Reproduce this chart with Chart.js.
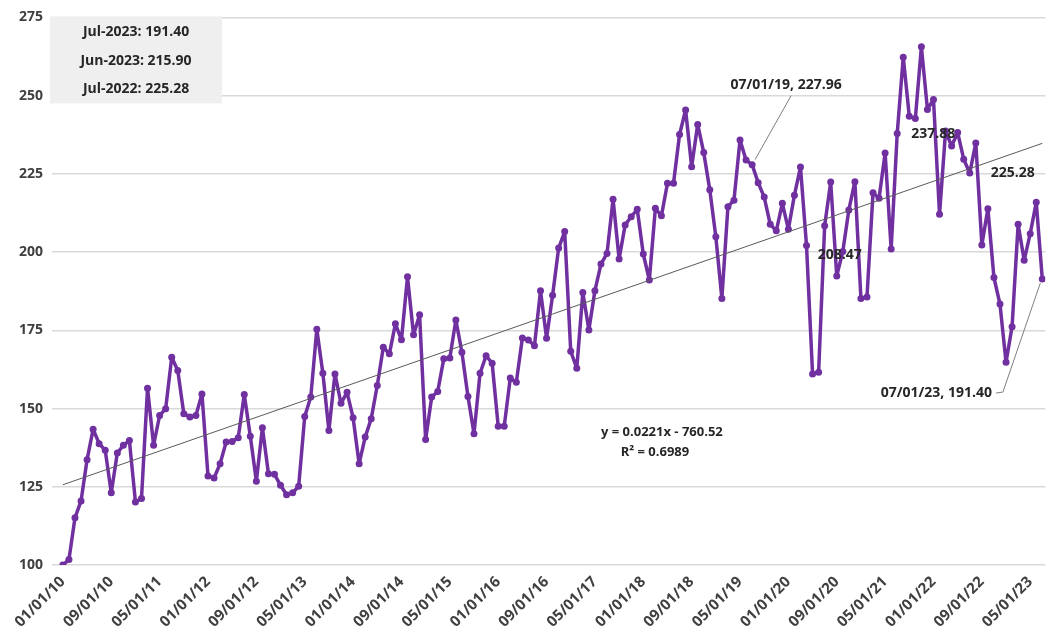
<!DOCTYPE html>
<html>
<head>
<meta charset="utf-8">
<script src="https://cdn.jsdelivr.net/npm/chart.js@4.4.0/dist/chart.umd.min.js"></script>
<style>
  html, body { margin: 0; padding: 0; background: #fff; }
  #wrap { width: 1051px; height: 642px; position: relative; }
</style>
</head>
<body>
<div id="wrap"><canvas id="lineChart"></canvas></div>
<script>
// monthly values (Jan 2010 .. Jul 2023)
var v2010 = [100.0, 101.8, 115.1, 120.5, 133.7, 143.4, 138.8, 136.7, 123.1, 135.8, 138.3, 139.8];
var v2011 = [120.2, 121.3, 156.5, 138.3, 147.8, 150.0, 166.4, 162.2, 148.4, 147.3, 147.8, 154.7];
var v2012 = [128.5, 127.8, 132.4, 139.3, 139.5, 140.7, 154.5, 141.2, 126.8, 143.9, 129.2, 129.0];
var v2013 = [125.5, 122.5, 123.1, 125.2, 147.5, 153.7, 175.4, 161.3, 143.0, 161.1, 151.7, 155.2];
var v2014 = [147.1, 132.4, 140.9, 146.8, 157.4, 169.6, 167.5, 177.1, 172.0, 192.1, 173.6, 180.0];
var v2015 = [140.1, 153.7, 155.5, 165.9, 166.2, 178.3, 168.0, 153.9, 142.0, 161.3, 166.9, 164.5];
var v2016 = [144.4, 144.4, 159.8, 158.4, 172.6, 171.9, 170.1, 187.7, 172.5, 186.2, 201.3, 206.6];
var v2017 = [168.3, 162.9, 187.1, 175.1, 187.7, 196.2, 199.6, 216.9, 197.8, 208.7, 211.3, 213.7];
var v2018 = [199.4, 191.1, 214.0, 211.6, 222.0, 222.0, 237.6, 245.4, 227.3, 240.8, 231.8, 219.9];
var v2019 = [204.9, 185.2, 214.5, 216.6, 235.8, 229.4, 227.96, 222.2, 217.6, 208.9, 206.8, 215.6];
var v2020 = [207.3, 218.2, 227.2, 202.1, 161.1, 161.6, 208.47, 222.4, 192.4, 200.2, 213.5, 222.5];
var v2021 = [185.2, 185.7, 219.0, 217.2, 231.7, 201.0, 237.88, 262.3, 243.4, 242.7, 265.6, 245.6];
var v2022 = [248.8, 212.1, 238.7, 233.9, 238.2, 229.7, 225.28, 234.9, 202.3, 213.9, 191.9, 183.4];
var v2023 = [164.8, 176.2, 208.9, 197.4, 205.9, 215.90, 191.40];

var values = [].concat(v2010, v2011, v2012, v2013, v2014, v2015, v2016,
                       v2017, v2018, v2019, v2020, v2021, v2022, v2023);

var tickLabels = ['01/01/10', '09/01/10', '05/01/11', '01/01/12', '09/01/12', '05/01/13',
                  '01/01/14', '09/01/14', '05/01/15', '01/01/16', '09/01/16', '05/01/17',
                  '01/01/18', '09/01/18', '05/01/19', '01/01/20', '09/01/20', '05/01/21',
                  '01/01/22', '09/01/22', '05/01/23'];
var tickEvery = 8;

var boxLines = ['Jul-2023: 191.40', 'Jun-2023: 215.90', 'Jul-2022: 225.28'];
var eqLines = ['y = 0.0221x - 760.52', 'R\u00b2 = 0.6989'];
// data labels: index of the month, text
var labelIdx = [114, 126, 138, 150, 162];
var labelText = ['07/01/19, 227.96', '208.47', '237.88', '225.28', '07/01/23, 191.40'];

// linear trend from the series
var n = values.length, sx = 0, sy = 0, sxy = 0, sxx = 0;
values.forEach(function (v, i) { sx += i; sy += v; sxy += i * v; sxx += i * i; });
var slope = (n * sxy - sx * sy) / (n * sxx - sx * sx);
var intercept = (sy - slope * sx) / n;

var FONT = '"Open Sans", "Liberation Sans", sans-serif';

var notes = {
  id: 'notes',
  afterDraw: function (chart) {
    var ctx = chart.ctx, xs = chart.scales.x, ys = chart.scales.y, a = chart.chartArea;
    ctx.save();
    // box with latest values
    ctx.fillStyle = '#efefef';
    ctx.fillRect(a.left - 2, a.top - 1, 172, 87);
    ctx.fillStyle = '#262626';
    ctx.font = 'bold 14px ' + FONT;
    ctx.textAlign = 'center';
    ctx.textBaseline = 'middle';
    boxLines.forEach(function (t, k) {
      ctx.fillText(t, a.left + 84, a.top + 15 + k * 28.5);
    });
    // trend equation
    ctx.font = 'bold 13px ' + FONT;
    ctx.fillText(eqLines[0], a.left + 0.614 * (a.right - a.left), ys.getPixelForValue(142.5));
    ctx.fillText(eqLines[1], a.left + 0.607 * (a.right - a.left), ys.getPixelForValue(136.2));

    // data labels
    var off = [[34, -80], [15, 29], [36, 0], [43, 0], [-106, 114]];
    ctx.font = 'bold 14px ' + FONT;
    labelIdx.forEach(function (idx, k) {
      var px = xs.getPixelForValue(idx), py = ys.getPixelForValue(values[idx]);
      var lx = px + off[k][0], ly = py + off[k][1];
      ctx.fillStyle = '#262626';
      ctx.fillText(labelText[k], lx, ly);
      ctx.strokeStyle = '#7f7f7f';
      ctx.lineWidth = 1;
      if (k === 0) {
        ctx.beginPath();
        ctx.moveTo(px + 3, py - 5);
        ctx.lineTo(lx + 5, ly + 11);
        ctx.stroke();
      }
      if (k === 4) {
        var w = ctx.measureText(labelText[k]).width;
        ctx.beginPath();
        ctx.moveTo(lx + w / 2 + 4, ly);
        ctx.lineTo(lx + w / 2 + 11, ly - 1);
        ctx.lineTo(px - 2, py + 4);
        ctx.stroke();
      }
    });
    ctx.restore();
  }
};

var lineCtx = document.getElementById('lineChart').getContext('2d');
var lineChart = new Chart(lineCtx, {
  type: 'line',
  data: {
    datasets: [{
      label: 'Trend',
      data: [{ x: 0, y: intercept }, { x: n - 1, y: intercept + slope * (n - 1) }],
      borderColor: '#595959',
      borderWidth: 1,
      pointRadius: 0,
      order: 0
    }, {
      label: 'Value',
      data: values.map(function (v, i) { return { x: i, y: v }; }),
      borderColor: '#7030a0',
      backgroundColor: '#7030a0',
      borderWidth: 3.5,
      borderJoinStyle: 'round',
      borderCapStyle: 'round',
      pointRadius: 3.5,
      pointBorderWidth: 0,
      pointBackgroundColor: '#7030a0',
      tension: 0,
      order: 1
    }]
  },
  options: {
    responsive: true,
    maintainAspectRatio: false,
    animation: false,
    layout: { padding: { top: 8, right: 3, left: 10, bottom: 3 } },
    plugins: {
      legend: { display: false },
      tooltip: { enabled: false }
    },
    scales: {
      x: {
        type: 'linear',
        min: -1.8,
        max: 162.5,
        grid: { display: false, drawTicks: false },
        border: { display: false },
        afterBuildTicks: function (axis) {
          axis.ticks = tickLabels.map(function (t, k) { return { value: k * tickEvery }; });
        },
        ticks: {
          autoSkip: false,
          maxRotation: 45,
          minRotation: 45,
          padding: 8,
          color: '#404040',
          font: { family: FONT, size: 15, weight: 'bold' },
          callback: function (value) { return tickLabels[value / tickEvery]; }
        }
      },
      y: {
        min: 100,
        max: 275,
        grid: { color: '#d9d9d9', lineWidth: 1.5, drawTicks: false },
        border: { display: false },
        ticks: {
          stepSize: 25,
          padding: 9,
          color: '#404040',
          font: { family: FONT, size: 14, weight: 'bold' }
        }
      }
    }
  },
  plugins: [notes]
});
</script>
</body>
</html>
